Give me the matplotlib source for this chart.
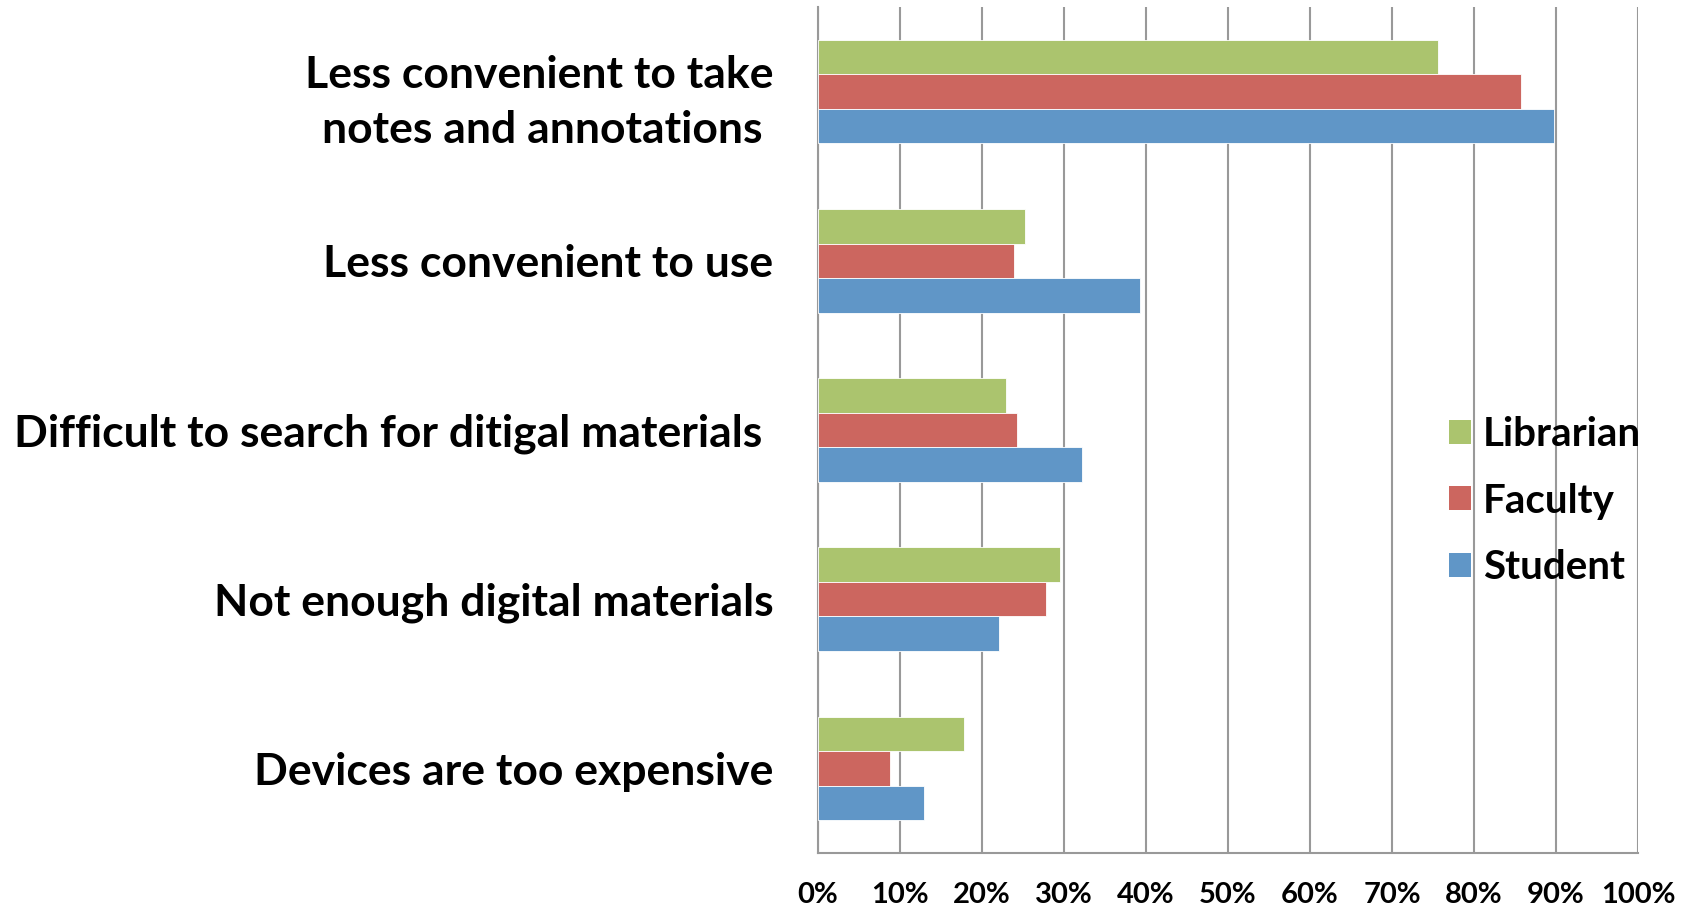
import numpy as np
import matplotlib
matplotlib.use("Agg")
import matplotlib.pyplot as plt
from matplotlib.patches import Patch

plt.rcParams['font.family'] = ['Lato', 'DejaVu Sans']

# categories listed top to bottom
categories = [
    "Less convenient to take\nnotes and annotations ",
    "Less convenient to use",
    "Difficult to search for ditigal materials ",
    "Not enough digital materials",
    "Devices are too expensive",
]
librarian = [75.6, 25.2, 22.9, 29.5, 17.8]
faculty = [85.7, 23.9, 24.3, 27.8, 8.8]
student = [89.7, 39.3, 32.2, 22.1, 12.9]

series = [("Librarian", librarian, "#ABC46E"),
          ("Faculty", faculty, "#CC665F"),
          ("Student", student, "#6096C7")]

fig = plt.figure(figsize=(16.88, 9.09), dpi=100)
ax = fig.add_axes([818 / 1688, 1 - 853 / 909, 820 / 1688, 846 / 909])

n = len(categories)
y = np.arange(n)
h = 0.204
for k, (name, vals, col) in enumerate(series):
    ax.barh(y + (k - 1) * h, vals, height=h, color=col, edgecolor="white",
            linewidth=0.6, label=name, zorder=3)

ax.set_xlim(0, 100)
ax.set_ylim(n - 0.5, -0.5)
ax.set_xticks(np.arange(0, 101, 10))
ax.set_xticklabels([f"{v}%" for v in range(0, 101, 10)], fontsize=21, fontweight="bold")
ax.set_yticks(y)
ax.set_yticklabels(categories, fontsize=32, fontweight="bold", ha="right",
                   linespacing=1.45)
ax.tick_params(axis="y", length=0, pad=32)
ax.tick_params(axis="x", length=0, pad=21)
ax.grid(axis="x", color="#999999", linewidth=1.5, zorder=0)
for s in ["top", "right"]:
    ax.spines[s].set_visible(False)
for s in ["left", "bottom"]:
    ax.spines[s].set_color("#999999")
    ax.spines[s].set_linewidth(1.5)

handles = [Patch(facecolor=c, edgecolor="none", label=nm) for nm, _, c in series]
fig.legend(handles=handles, loc="center left", bbox_to_anchor=(1449 / 1688, 1 - 501 / 909),
           frameon=False, prop={"size": 29, "weight": "bold"}, handlelength=0.55,
           handleheight=0.55, handletextpad=0.3, labelspacing=0.73,
           borderpad=0, borderaxespad=0)

fig.savefig("out.png", dpi=100)
